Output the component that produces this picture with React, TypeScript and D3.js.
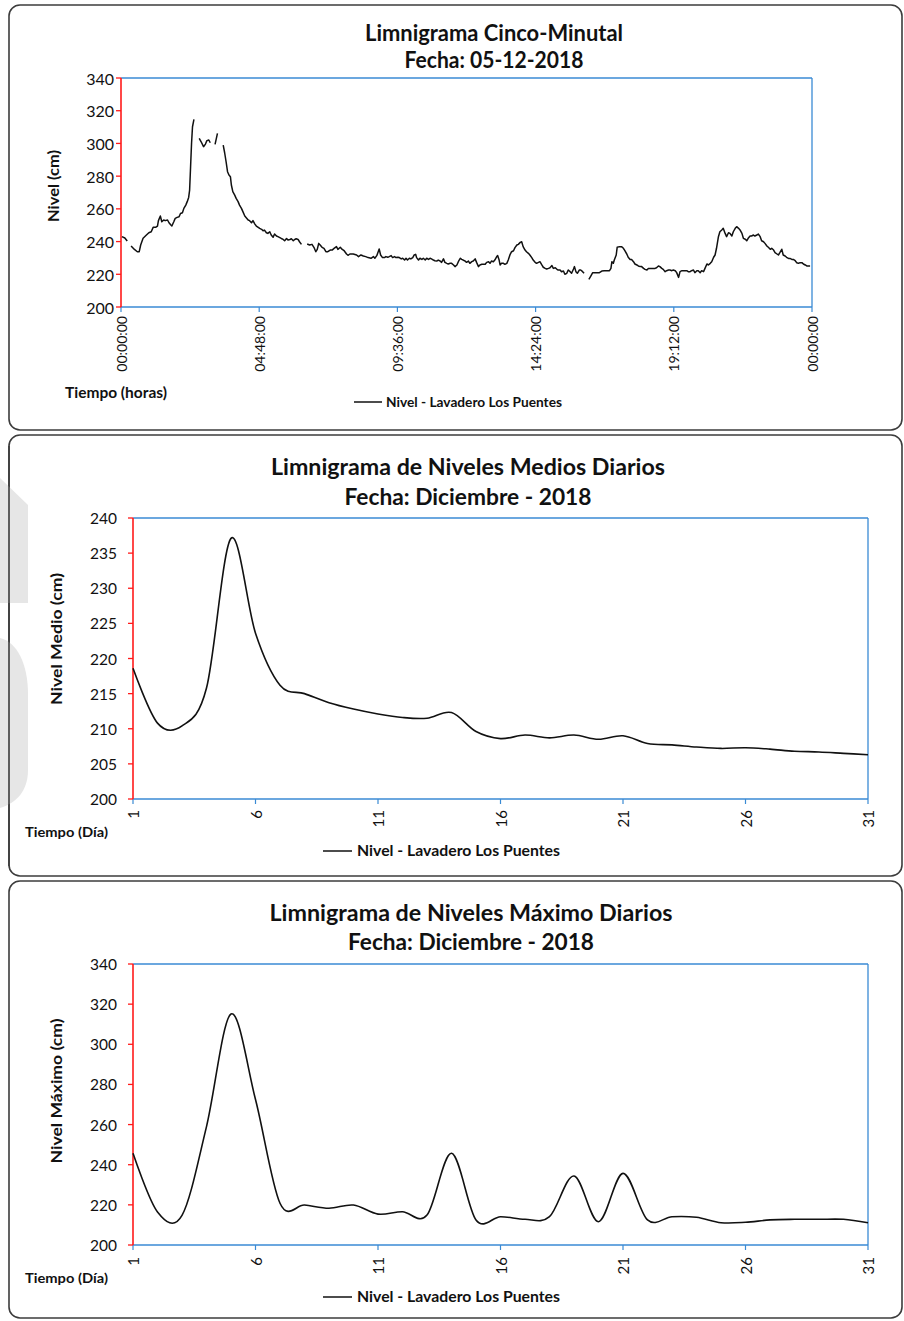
import React from 'react';
import * as d3 from 'd3';

// ---------- DATA ----------
// Panel 1: 5-minute levels (minute of day, level cm); null = gap in record
const nivelCincoMinutal: Array<[number, number | null]> = [
  [2, 243.0], [8, 242.2], [13, 240.3], [17, null],
  [21, 237.3], [28, 235.2], [34, 233.8], [38, 233.8], [41, 237.9], [46, 242.0], [53, 244.0], [58, 245.4], [63, 246.0], [67, 248.7], [72, 248.7], [76, 249.5], [78, 252.8], [82, 255.6], [85, 252.1], [89, 253.2], [92, 252.8], [97, 253.2], [100, 251.5], [104, 250.1], [106, 249.5], [110, 252.1], [113, 254.2], [117, 254.8], [121, 255.2], [124, 257.2], [128, 257.6], [131, 260.3], [135, 262.3], [138, 264.4], [141, 267.0], [143, 271.5], [145, 285.8], [147, 300.0], [149, 310.2], [152, 314.7], [157, null],
  [163, 303.1], [167, 301.0], [172, 298.0], [176, 299.6], [179, 301.7], [183, 302.1], [186, 300.4], [191, null],
  [196, 299.4], [201, 306.1], [207, null],
  [213, 299.0], [216, 294.3], [219, 288.8], [222, 282.7], [225, 280.7], [228, 279.7], [230, 274.6], [233, 270.5], [237, 268.4], [240, 266.4], [244, 264.4], [247, 262.3], [251, 260.3], [254, 258.3], [258, 255.6], [261, 254.6], [265, 253.2], [268, 252.8], [272, 251.5], [275, 252.8], [279, 250.7], [282, 249.5], [286, 248.7], [289, 248.1], [293, 247.5], [296, 246.6], [299, 247.0], [303, 245.4], [306, 245.0], [310, 246.0], [313, 244.0], [317, 242.6], [320, 244.6], [324, 243.4], [327, 243.0], [331, 242.4], [334, 241.9], [338, 241.3], [341, 240.5], [345, 241.9], [348, 240.9], [352, 241.3], [355, 241.7], [359, 240.5], [362, 241.3], [365, 241.7], [369, 241.3], [372, 239.9], [376, 238.3], [382, null],
  [388, 238.5], [393, 237.9], [398, 238.3], [402, 236.5], [406, 233.8], [409, 235.2], [412, 238.9], [415, 237.9], [419, 236.5], [423, 235.8], [427, 233.8], [431, 233.8], [436, 234.8], [440, 234.8], [444, 235.8], [449, 236.9], [452, 235.2], [457, 236.5], [461, 235.2], [465, 234.4], [470, 232.4], [473, 231.6],
  [477, 232.4], [484, 232.4], [491, 231.8], [495, 230.8], [500, 231.8], [505, 231.2], [510, 230.8], [515, 230.2], [521, 229.8], [526, 230.8], [529, 229.8], [533, 231.4], [536, 233.8], [538, 235.5], [541, 231.8], [545, 230.2], [549, 230.2], [552, 230.8], [556, 230.4], [559, 230.8], [563, 231.4], [566, 230.2], [570, 230.8], [573, 230.2], [577, 230.4], [580, 230.2], [584, 229.4], [587, 229.8], [591, 228.7], [594, 229.8], [597, 228.7], [601, 229.8], [604, 229.4], [608, 230.2], [611, 231.8], [614, 232.2], [616, 230.2], [620, 228.7], [623, 229.8], [627, 229.1], [630, 229.8], [634, 228.7], [637, 229.8], [641, 229.1], [644, 229.8], [647, 229.4], [651, 228.7], [654, 228.3], [658, 228.1], [661, 228.7], [665, 228.1], [668, 227.3], [672, 229.4], [675, 227.3], [679, 226.7], [682, 226.3], [686, 226.7], [689, 226.7], [693, 225.7], [696, 224.7], [700, 225.7], [703, 227.7], [707, 229.8], [710, 229.1], [713, 228.7], [717, 228.1], [720, 227.3], [724, 228.1], [727, 226.7], [731, 227.7], [734, 228.1], [738, 229.4], [741, 227.3], [745, 224.7], [748, 225.7], [752, 226.1], [755, 226.1], [759, 226.1], [762, 227.3], [766, 227.7], [769, 226.7], [772, 228.1], [776, 227.7], [779, 228.7], [783, 230.8], [785, 231.4], [788, 228.7], [790, 225.7], [793, 226.7], [797, 226.7], [800, 226.1], [804, 226.7], [807, 228.7], [811, 232.2], [814, 233.8], [818, 234.4], [821, 236.3], [825, 237.9], [828, 238.3], [832, 239.5], [835, 239.9], [838, 236.9], [842, 234.8], [845, 233.8], [849, 232.8], [852, 231.8], [856, 230.2], [859, 228.7], [863, 227.3], [866, 226.7], [870, 227.3], [873, 227.7], [877, 225.7], [880, 224.3], [884, 223.6], [887, 223.2], [891, 223.6], [894, 224.0], [898, 225.3], [901, 223.6], [905, 224.0], [908, 223.2], [911, 222.6], [915, 222.6], [918, 221.6], [922, 222.0], [925, 220.0], [929, 220.6], [932, 222.6], [936, 221.6], [939, 220.6], [943, 223.2], [945, 224.7], [948, 221.6], [951, 220.6], [955, 222.6], [958, 222.6], [962, 221.6], [965, 220.6], [970, null],
  [975, 216.9], [979, 218.9], [983, 221.0], [988, 221.0], [993, 221.0], [997, 221.0], [1002, 222.0], [1007, 222.2], [1012, 222.2], [1018, 222.2], [1021, 223.6], [1023, 227.7], [1026, 226.7], [1028, 228.7], [1032, 231.8], [1034, 236.5], [1039, 236.9], [1043, 236.9], [1047, 235.9], [1050, 234.4], [1054, 232.4], [1057, 230.4], [1061, 229.1], [1064, 229.1], [1068, 227.7], [1071, 226.3], [1075, 225.7], [1078, 225.1], [1082, 224.7], [1085, 224.7], [1089, 223.6], [1092, 223.0], [1096, 222.6], [1099, 223.6], [1103, 223.6], [1106, 223.6], [1109, 223.6], [1113, 223.6], [1116, 224.0], [1120, 225.1], [1123, 224.7], [1127, 223.6], [1130, 223.0], [1134, 221.6], [1137, 222.2], [1141, 222.6], [1144, 222.6], [1148, 222.2], [1151, 222.6], [1155, 222.2], [1158, 221.0], [1162, 218.1], [1165, 221.6], [1169, 222.2], [1172, 222.2], [1175, 222.2], [1179, 222.2], [1182, 221.6], [1186, 221.6], [1189, 222.2], [1193, 222.6], [1196, 221.0], [1200, 222.2], [1203, 222.2], [1207, 221.0], [1210, 222.2], [1214, 221.6], [1217, 223.6], [1221, 226.3], [1224, 225.7], [1228, 226.7], [1231, 227.7], [1235, 230.4], [1238, 231.8], [1241, 235.9], [1245, 243.0], [1248, 246.0], [1252, 247.1], [1255, 248.1], [1259, 245.0], [1262, 243.0], [1266, 245.4], [1269, 245.0], [1273, 243.4], [1276, 246.0], [1280, 248.1], [1283, 249.1], [1287, 248.1], [1290, 247.1], [1294, 245.0], [1297, 242.0], [1301, 241.4], [1304, 240.5], [1307, 242.0], [1311, 243.4], [1314, 243.4], [1318, 244.0], [1321, 243.4], [1325, 244.0], [1328, 244.6], [1332, 243.0], [1335, 240.5], [1339, 239.9], [1342, 238.9], [1346, 237.3], [1349, 236.5], [1353, 235.3], [1356, 235.9], [1360, 234.8], [1363, 233.2], [1367, 232.4], [1370, 231.8], [1373, 233.2], [1377, 235.3], [1380, 231.8], [1384, 231.2], [1387, 230.4], [1391, 229.7], [1394, 229.7], [1398, 229.1], [1401, 229.1], [1405, 228.3], [1408, 227.1], [1412, 226.7], [1415, 227.1], [1419, 227.1], [1422, 226.3], [1426, 225.7], [1429, 225.1], [1433, 225.1], [1436, 225.1],
];

const horasTicks = [0, 288, 576, 864, 1152, 1440];
const horasTickLabels = ['00:00:00', '04:48:00', '09:36:00', '14:24:00', '19:12:00', '00:00:00'];
const nivelTicks340 = [200, 220, 240, 260, 280, 300, 320, 340];
const nivelTicks240 = [200, 205, 210, 215, 220, 225, 230, 235, 240];

const dias = [1, 2, 3, 4, 5, 6, 7, 8, 9, 10, 11, 12, 13, 14, 15, 16, 17, 18, 19, 20, 21, 22, 23, 24, 25, 26, 27, 28, 29, 30, 31];
const diaTicks = [1, 6, 11, 16, 21, 26, 31];

const nivelMedio = [218.6, 210.8, 210.4, 215.8, 237.1, 223.6, 216.2, 215.0, 213.7, 212.8, 212.1, 211.6, 211.5, 212.3, 209.6, 208.6, 209.1, 208.7, 209.1, 208.5, 209.0, 207.9, 207.7, 207.4, 207.2, 207.3, 207.1, 206.8, 206.7, 206.5, 206.3];
const nivelMaximo = [245.7, 216.5, 214.8, 259.0, 315.1, 272.5, 220.8, 219.9, 218.3, 219.9, 215.4, 216.6, 214.9, 245.7, 212.5, 214.1, 212.8, 214.1, 234.4, 211.6, 235.7, 212.5, 214.1, 213.8, 211.1, 211.3, 212.5, 212.8, 212.8, 212.8, 211.1];

const legendLabel = 'Nivel - Lavadero Los Puentes';

// ---------- STYLE ----------
const FONT = "Lato, 'Open Sans', 'DejaVu Sans', sans-serif";
const BLUE = '#3a8ad4';
const RED = '#ff1a1a';
const BORDER = '#3c3c3c';

type Box = { x: number; y: number; w: number; h: number };
type Plot = { l: number; t: number; r: number; b: number };

function PanelFrame({ box }: { box: Box }) {
  return (
    <rect x={box.x} y={box.y} width={box.w} height={box.h} rx={11} ry={11}
      fill="white" stroke={BORDER} strokeWidth={1.6} />
  );
}

function Axes({ plot, yScale, yTicks, yLabelX, yFont, xTicks, xScale, xLabels, xLabelTop, xFont }: any) {
  return (
    <g>
      <line x1={plot.l} x2={plot.r} y1={plot.t} y2={plot.t} stroke={BLUE} strokeWidth={1.3} />
      <line x1={plot.r} x2={plot.r} y1={plot.t} y2={plot.b} stroke={BLUE} strokeWidth={1.3} />
      <line x1={plot.l} x2={plot.r} y1={plot.b} y2={plot.b} stroke={BLUE} strokeWidth={1.3} />
      {xTicks.map((t: number, i: number) => (
        <g key={'xt' + i}>
          <line x1={xScale(t)} x2={xScale(t)} y1={plot.b} y2={plot.b + 5} stroke={BLUE} strokeWidth={1.2} />
          <text x={xScale(t)} y={xLabelTop} transform={`rotate(-90 ${xScale(t)} ${xLabelTop})`}
            textAnchor="end" dominantBaseline="central" fontFamily={FONT} fontSize={xFont} fill="#111">{xLabels[i]}</text>
        </g>
      ))}
      <line x1={plot.l} x2={plot.l} y1={plot.t} y2={plot.b} stroke={RED} strokeWidth={1.6} />
      {yTicks.map((v: number) => (
        <g key={'yt' + v}>
          <line x1={plot.l - 5} x2={plot.l} y1={yScale(v)} y2={yScale(v)} stroke={RED} strokeWidth={1.3} />
          <text x={yLabelX} y={yScale(v)} textAnchor="end" dominantBaseline="central"
            fontFamily={FONT} fontSize={yFont} fill="#111">{v}</text>
        </g>
      ))}
    </g>
  );
}

function Titles({ cx, lines, baselines, widths, size }: any) {
  return (
    <g>
      {lines.map((s: string, i: number) => (
        <text key={i} x={cx} y={baselines[i]} textAnchor="middle" fontFamily={FONT} fontWeight={700}
          fontSize={size} fill="#111" textLength={widths[i]} lengthAdjust="spacingAndGlyphs">{s}</text>
      ))}
    </g>
  );
}

function Legend({ x1, x2, y, tx, tb, tw, size }: any) {
  return (
    <g>
      <line x1={x1} x2={x2} y1={y} y2={y} stroke="#111" strokeWidth={1.5} />
      <text x={tx} y={tb} fontFamily={FONT} fontWeight={700} fontSize={size} fill="#111"
        textLength={tw} lengthAdjust="spacingAndGlyphs">{legendLabel}</text>
    </g>
  );
}

export default function App() {
  const b1: Box = { x: 9, y: 5, w: 893, h: 425 };
  const p1: Plot = { l: 121, t: 78, r: 812, b: 307 };
  const x1 = d3.scaleLinear().domain([0, 1440]).range([p1.l, p1.r]);
  const y1 = d3.scaleLinear().domain([200, 340]).range([p1.b, p1.t]);
  const line1 = d3.line<[number, number | null]>()
    .defined(d => d[1] != null)
    .x(d => x1(d[0]))
    .y(d => y1(d[1] as number));

  const b2: Box = { x: 9, y: 435, w: 893, h: 441 };
  const p2: Plot = { l: 133, t: 518, r: 868, b: 799 };
  const x2 = d3.scaleLinear().domain([1, 31]).range([p2.l, p2.r]);
  const y2 = d3.scaleLinear().domain([200, 240]).range([p2.b, p2.t]);
  const line2 = d3.line<number>()
    .x((_, i) => x2(dias[i]))
    .y(d => y2(d))
    .curve(d3.curveCardinal.tension(0));

  const b3: Box = { x: 9, y: 881, w: 893, h: 437 };
  const p3: Plot = { l: 133, t: 964, r: 868, b: 1245 };
  const x3 = d3.scaleLinear().domain([1, 31]).range([p3.l, p3.r]);
  const y3 = d3.scaleLinear().domain([200, 340]).range([p3.b, p3.t]);
  const line3 = d3.line<number>()
    .x((_, i) => x3(dias[i]))
    .y(d => y3(d))
    .curve(d3.curveCardinal.tension(0));

  return (
    <div style={{ position: 'absolute', left: 0, top: 0 }}>
      <svg width={904} height={1321} style={{ display: 'block', background: 'white' }}>
        <rect x={0} y={0} width={904} height={1321} fill="white" />

        {/* Panel 1 */}
        <PanelFrame box={b1} />
        <Titles cx={494} lines={['Limnigrama Cinco-Minutal', 'Fecha: 05-12-2018']} baselines={[40.5, 68]} widths={[258, 179]} size={23} />
        <Axes plot={p1} yScale={y1} yTicks={nivelTicks340} yLabelX={114} yFont={16}
          xTicks={horasTicks} xScale={x1} xLabels={horasTickLabels} xLabelTop={316} xFont={14} />
        <path d={line1(nivelCincoMinutal) || ''} fill="none" stroke="#111" strokeWidth={1.5} strokeLinejoin="round" />
        <text x={53} y={186} transform="rotate(-90 53 186)" textAnchor="middle" dominantBaseline="central"
          fontFamily={FONT} fontWeight={700} fontSize={15} fill="#111" textLength={72} lengthAdjust="spacingAndGlyphs">Nivel (cm)</text>
        <text x={65} y={398} fontFamily={FONT} fontWeight={700} fontSize={15} fill="#111" textLength={102} lengthAdjust="spacingAndGlyphs">Tiempo (horas)</text>
        <Legend x1={354} x2={382} y={402} tx={386} tb={406.5} tw={176} size={13} />

        {/* Panel 2 */}
        <PanelFrame box={b2} />
        <path d="M0,478 L28,505 L28,603 L0,603 Z" fill="#e6e6e6" />
        <path d="M0,638 C17,642 28,664 28,694 L28,770 C28,790 17,803 0,808 Z" fill="#e6e6e6" />
        <line x1={9} x2={9} y1={446} y2={866} stroke={BORDER} strokeWidth={1.6} />
        <Titles cx={468} lines={['Limnigrama de Niveles Medios Diarios', 'Fecha: Diciembre - 2018']} baselines={[475, 505]} widths={[394, 247]} size={23} />
        <Axes plot={p2} yScale={y2} yTicks={nivelTicks240} yLabelX={117} yFont={15.5}
          xTicks={diaTicks} xScale={x2} xLabels={diaTicks.map(String)} xLabelTop={810} xFont={15} />
        <path d={line2(nivelMedio) || ''} fill="none" stroke="#111" strokeWidth={1.6} />
        <text x={55} y={639} transform="rotate(-90 55 639)" textAnchor="middle" dominantBaseline="central"
          fontFamily={FONT} fontWeight={700} fontSize={16} fill="#111" textLength={132} lengthAdjust="spacingAndGlyphs">Nivel Medio (cm)</text>
        <text x={25} y={837} fontFamily={FONT} fontWeight={700} fontSize={14} fill="#111" textLength={83} lengthAdjust="spacingAndGlyphs">Tiempo (Día)</text>
        <Legend x1={323} x2={352} y={851} tx={357} tb={856} tw={203} size={15} />

        {/* Panel 3 */}
        <PanelFrame box={b3} />
        <Titles cx={471} lines={['Limnigrama de Niveles Máximo Diarios', 'Fecha: Diciembre - 2018']} baselines={[921, 950]} widths={[403, 246]} size={23} />
        <Axes plot={p3} yScale={y3} yTicks={nivelTicks340} yLabelX={117} yFont={15.5}
          xTicks={diaTicks} xScale={x3} xLabels={diaTicks.map(String)} xLabelTop={1257} xFont={15} />
        <path d={line3(nivelMaximo) || ''} fill="none" stroke="#111" strokeWidth={1.6} />
        <text x={55} y={1091} transform="rotate(-90 55 1091)" textAnchor="middle" dominantBaseline="central"
          fontFamily={FONT} fontWeight={700} fontSize={16} fill="#111" textLength={145} lengthAdjust="spacingAndGlyphs">Nivel Máximo (cm)</text>
        <text x={25} y={1283} fontFamily={FONT} fontWeight={700} fontSize={14} fill="#111" textLength={83} lengthAdjust="spacingAndGlyphs">Tiempo (Día)</text>
        <Legend x1={323} x2={352} y={1297} tx={357} tb={1302} tw={203} size={15} />
      </svg>
    </div>
  );
}
